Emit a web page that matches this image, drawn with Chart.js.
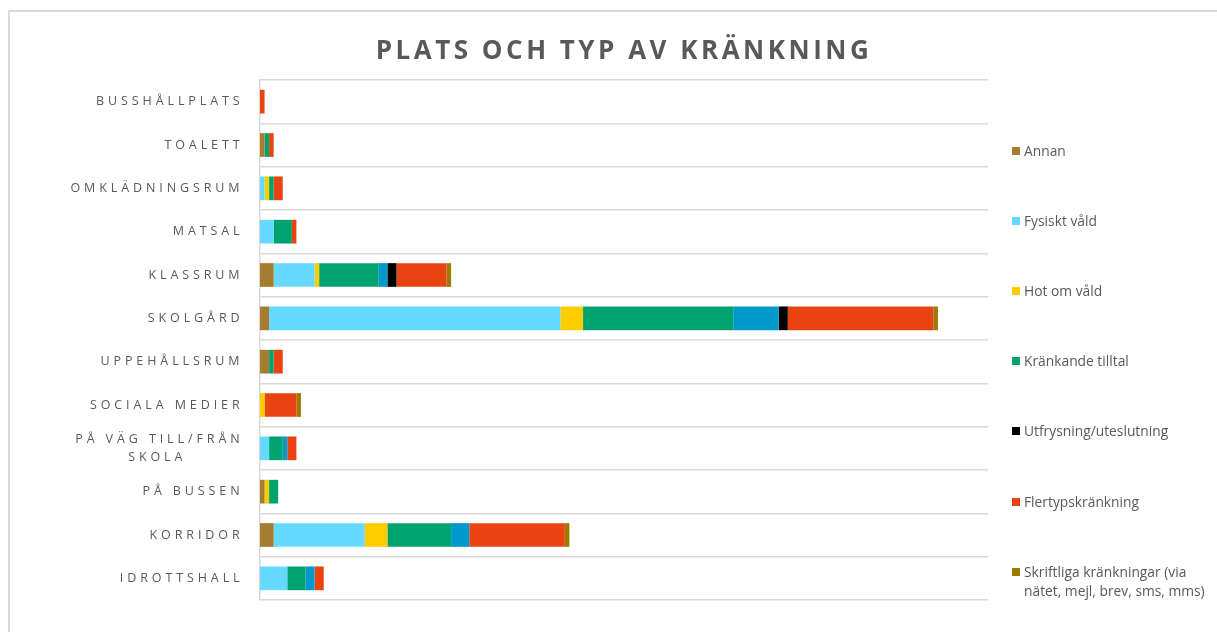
<!DOCTYPE html>
<html><head><meta charset="utf-8">
<script src="https://cdn.jsdelivr.net/npm/chart.js@4.4.1/dist/chart.umd.min.js"></script>
<style>
html,body{margin:0;padding:0;background:#fff;width:1217px;height:632px;overflow:hidden;}
#frame{position:absolute;left:8px;top:10px;width:1400px;height:800px;border-left:2px solid #d9d9d9;border-top:2px solid #d9d9d9;box-sizing:border-box;}
#c{position:absolute;left:0;top:0;}
#legend{position:absolute;left:0;top:0;font-family:"Open Sans";font-size:13.8px;color:#595959;}
.li{position:absolute;left:1012px;display:flex;align-items:flex-start;width:203px;line-height:19px;}
.sw{width:8px;height:8px;margin-top:6px;margin-right:4px;flex:none;}
</style></head><body>
<div id="frame"></div>
<canvas id="c" width="1217" height="632"></canvas>
<div id="legend"></div>
<script>
const categories = ['BUSSHÅLLPLATS','TOALETT','OMKLÄDNINGSRUM','MATSAL','KLASSRUM','SKOLGÅRD','UPPEHÅLLSRUM','SOCIALA MEDIER','PÅ VÄG TILL/FRÅN SKOLA','PÅ BUSSEN','KORRIDOR','IDROTTSHALL'];
const annan       = [0,1,0,0,3,2,2,0,0,1,3,0];
const fysisktVald = [0,0,1,3,9,64,0,0,2,0,20,6];
const hotOmVald   = [0,0,1,0,1,5,0,1,0,1,5,0];
const krankande   = [0,1,1,4,13,33,1,0,3,2,14,4];
const ovrigBla    = [0,0,0,0,2,10,0,0,1,0,4,2];
const utfrysning  = [0,0,0,0,2,2,0,0,0,0,0,0];
const flertyps    = [1,1,2,1,11,32,2,7,2,0,21,2];
const skriftliga  = [0,0,0,0,1,1,0,1,0,0,1,0];
const xMax = 160;

const series = [
  {label:'Annan', data:annan, color:'#A67D2E', legend:true},
  {label:'Fysiskt våld', data:fysisktVald, color:'#66D9FF', legend:true},
  {label:'Hot om våld', data:hotOmVald, color:'#FFCC00', legend:true},
  {label:'Kränkande tilltal', data:krankande, color:'#00A370', legend:true},
  {label:'Övrigt', data:ovrigBla, color:'#0099CC', legend:false},
  {label:'Utfrysning/uteslutning', data:utfrysning, color:'#000000', legend:true},
  {label:'Flertypskränkning', data:flertyps, color:'#E84311', legend:true},
  {label:'Skriftliga kränkningar (via nätet, mejl, brev, sms, mms)', data:skriftliga, color:'#9C7A00', legend:true}
];

const TICK_SPACING = '3.9px';
const measureCtx = document.createElement('canvas').getContext('2d');
measureCtx.font = '12.5px "Open Sans"';
measureCtx.letterSpacing = TICK_SPACING;

function tickLabel(value, index){
  const t = categories[index];
  if (t.length > 20) {
    const k = t.lastIndexOf(' ');
    const l1 = t.slice(0,k), l2 = t.slice(k+1);
    const w1 = measureCtx.measureText(l1).width, w2 = measureCtx.measureText(l2).width;
    const sw = measureCtx.measureText(' ').width;
    const n = Math.max(0, Math.round((w1 - w2) / 2 / sw));
    return [l1, l2 + ' '.repeat(n)];
  }
  return t;
}

const spacingPlugin = {
  id:'spacing',
  beforeDraw(c){ c.ctx.letterSpacing = '3.5px'; },
  afterDatasetsDraw(c){ c.ctx.letterSpacing = TICK_SPACING; },
  afterDraw(c){ c.ctx.letterSpacing = '0px'; }
};

const chart = new Chart(document.getElementById('c'), {
  type:'bar',
  data:{
    labels:categories,
    datasets: series.map(s => ({label:s.label, data:s.data, backgroundColor:s.color, borderWidth:0, barPercentage:0.547, categoryPercentage:1, inLegend:s.legend}))
  },
  options:{
    indexAxis:'y', responsive:false, animation:false,
    layout:{padding:{left:8,right:229,top:0,bottom:32}},
    plugins:{
      legend:{display:false}, tooltip:{enabled:false},
      title:{display:true, fullSize:false, text:'PLATS OCH TYP AV KRÄNKNING', color:'#595959',
        font:{family:'Open Sans', size:26, weight:'bold', lineHeight:1.2}, padding:{top:36,bottom:12.8}}
    },
    scales:{
      x:{stacked:true, min:0, max:xMax, display:false},
      y:{stacked:true,
        grid:{color:'#d9d9d9', lineWidth:1.5, drawTicks:false, offset:true},
        border:{color:'#d9d9d9', width:1.5},
        ticks:{color:'#595959', font:{family:'Open Sans', size:12.5, lineHeight:1.45}, padding:16.5, crossAlign:'near', z:1, callback:tickLabel},
        afterFit(s){ s.width = 252; }
      }
    }
  },
  plugins:[spacingPlugin]
});

// HTML legend built from the chart's datasets
const leg = document.getElementById('legend');
const legendItems = chart.data.datasets.filter(d => d.inLegend);
legendItems.forEach((d, i) => {
  const el = document.createElement('div');
  el.className = 'li';
  el.style.top = (140.5 + i * 70.2) + 'px';
  const sw = document.createElement('span'); sw.className = 'sw'; sw.style.background = d.backgroundColor;
  const tx = document.createElement('span'); tx.textContent = d.label;
  el.appendChild(sw); el.appendChild(tx);
  leg.appendChild(el);
});
</script>
</body></html>
